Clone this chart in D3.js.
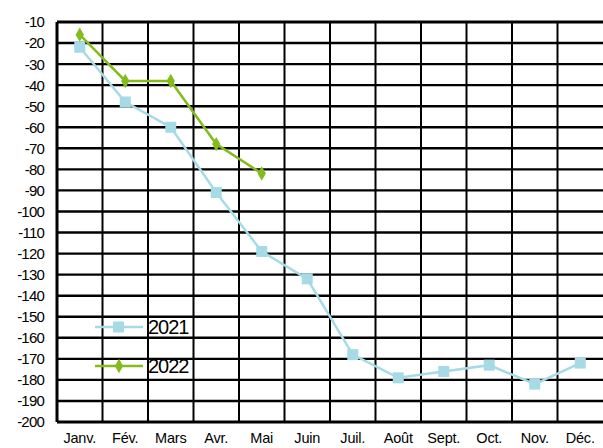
<!DOCTYPE html>
<html lang="fr">
<head>
<meta charset="UTF-8">
<title>2021 / 2022</title>
<script src="https://d3js.org/d3.v7.min.js"></script>
<style>
  body { margin: 0; background: #fff; }
  svg { display: block; font-family: "Liberation Sans", Arial, sans-serif; }
  .tick-y { font-size: 15px; letter-spacing: -0.8px; }
  .tick-x { font-size: 14.5px; letter-spacing: -0.2px; }
  .leg { font-size: 20px; letter-spacing: -1px; }
</style>
</head>
<body>
<div id="chart"></div>
<script>
// Données
const mois = ["Janv.", "Fév.", "Mars", "Avr.", "Mai", "Juin", "Juil.", "Août", "Sept.", "Oct.", "Nov.", "Déc."];
const serie2021 = [-22, -48, -60, -91, -119, -132, -168, -179, -176, -173, -182, -172];
const serie2022 = [-16, -38, -38, -68, -82];
const ticksY = d3.range(-10, -201, -10);

const width = 603, height = 448;
const margin = { left: 57, right: 0, top: 22, bottom: 26 };

const svg = d3.select("#chart").append("svg")
    .attr("width", width)
    .attr("height", height);

const x = d3.scaleBand()
    .domain(mois)
    .range([margin.left, width - margin.right]);

const y = d3.scaleLinear()
    .domain([-10, -200])
    .range([margin.top, height - margin.bottom]);

// Grille horizontale
svg.append("g")
    .selectAll("line")
    .data(ticksY)
    .join("line")
    .attr("x1", margin.left)
    .attr("x2", width)
    .attr("y1", d => y(d))
    .attr("y2", d => y(d))
    .attr("stroke", "#000")
    .attr("stroke-width", d => (d === -10 || d === -200) ? 3 : 2.4);

// Grille verticale
svg.append("g")
    .selectAll("line")
    .data(mois)
    .join("line")
    .attr("x1", d => x(d))
    .attr("x2", d => x(d))
    .attr("y1", y(-10))
    .attr("y2", y(-200))
    .attr("stroke", "#000")
    .attr("stroke-width", (d, i) => i === 0 ? 3 : 2);

// Étiquettes de l'axe Y
svg.append("g")
    .selectAll("text")
    .data(ticksY)
    .join("text")
    .attr("class", "tick-y")
    .attr("x", 44)
    .attr("y", d => y(d))
    .attr("dy", "0.36em")
    .attr("text-anchor", "end")
    .text(d => d);

// Étiquettes de l'axe X
svg.append("g")
    .selectAll("text")
    .data(mois)
    .join("text")
    .attr("class", "tick-x")
    .attr("x", d => x(d) + x.bandwidth() / 2)
    .attr("y", 443)
    .attr("text-anchor", "middle")
    .text(d => d);

const cx = (d, i) => x(mois[i]) + x.bandwidth() / 2;
const line = d3.line().x((d, i) => cx(d, i)).y(d => y(d));

const bleu = "#a6dbe6", vert = "#84bb1d";

// Série 2021
svg.append("path")
    .datum(serie2021)
    .attr("d", line)
    .attr("fill", "none")
    .attr("stroke", bleu)
    .attr("stroke-width", 2.5);
svg.append("g")
    .selectAll("rect")
    .data(serie2021)
    .join("rect")
    .attr("x", (d, i) => cx(d, i) - 5.5)
    .attr("y", d => y(d) - 5.5)
    .attr("width", 11)
    .attr("height", 11)
    .attr("fill", bleu);

// Série 2022
svg.append("path")
    .datum(serie2022)
    .attr("d", line)
    .attr("fill", "none")
    .attr("stroke", vert)
    .attr("stroke-width", 2.5);
const diamant = d3.symbol().type(d3.symbolDiamond).size(60);
svg.append("g")
    .selectAll("path")
    .data(serie2022)
    .join("path")
    .attr("d", diamant)
    .attr("transform", (d, i) => `translate(${cx(d, i)},${y(d)})`)
    .attr("fill", vert);

// Légende
const legende = [
    { nom: "2021", couleur: bleu, y: 327, forme: "carre" },
    { nom: "2022", couleur: vert, y: 366, forme: "losange" }
];
const leg = svg.append("g");
legende.forEach(l => {
    leg.append("line")
        .attr("x1", 95).attr("x2", 143)
        .attr("y1", l.y).attr("y2", l.y)
        .attr("stroke", l.couleur)
        .attr("stroke-width", 2.5);
    if (l.forme === "carre") {
        leg.append("rect")
            .attr("x", 113).attr("y", l.y - 5.5)
            .attr("width", 11).attr("height", 11)
            .attr("fill", l.couleur);
    } else {
        leg.append("path")
            .attr("d", diamant)
            .attr("transform", `translate(119,${l.y})`)
            .attr("fill", l.couleur);
    }
    leg.append("text")
        .attr("class", "leg")
        .attr("x", 148)
        .attr("y", l.y)
        .attr("dy", "0.36em")
        .text(l.nom);
});
</script>
</body>
</html>
